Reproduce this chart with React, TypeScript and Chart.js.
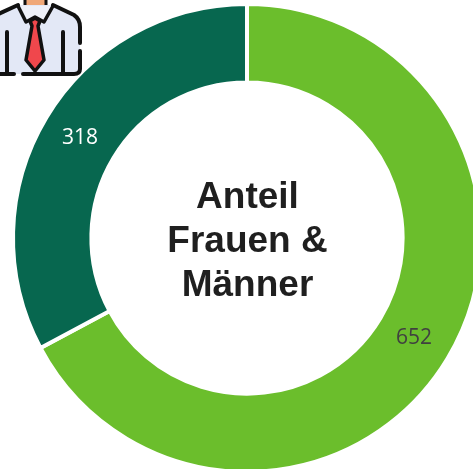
import React, { useEffect, useRef } from "react";
import { Chart, registerables } from "chart.js";

Chart.register(...registerables);

const categories = ["Männer", "Frauen"];
const seriesValues = [652, 318];
const sliceColors = ["#6bbe2c", "#07674f"];
const labelColors = ["#404040", "#ffffff"];
const centerLines = ["Anteil", "Frauen &", "Männer"];

const overlayPlugin = {
  id: "overlay",
  afterDatasetsDraw(chart: any) {
    const { ctx } = chart;
    const meta = chart.getDatasetMeta(0);
    ctx.save();
    ctx.textAlign = "center";
    ctx.textBaseline = "middle";
    ctx.font = '21px "Open Sans"';
    meta.data.forEach((arc: any, i: number) => {
      const p = arc.tooltipPosition();
      ctx.fillStyle = labelColors[i];
      ctx.fillText(String(seriesValues[i]), p.x, p.y);
    });
    const first = meta.data[0];
    ctx.fillStyle = "#1f1f1f";
    ctx.font = 'bold 37px "Liberation Sans"';
    ctx.textBaseline = "alphabetic";
    centerLines.forEach((line, i) => {
      ctx.fillText(line, first.x + 0.5, first.y - 30 + i * 44);
    });
    ctx.restore();
  },
};

function ManIcon() {
  return (
    <svg
      width={84}
      height={78}
      viewBox="0 0 84 78"
      style={{ position: "absolute", left: 0, top: 0 }}
    >
      <rect x={25} y={-4} width={21} height={12} fill="#f0a878" stroke="#111" strokeWidth={3} />
      <path
        d="M-4 15 L18 5 L53 5 L74 15 Q80 19 80 27 L80 74 L-4 74 Z"
        fill="#e3e8f6"
      />
      <path
        d="M-4 15 L18 5 M53 5 L74 15 Q80 19 80 27 L80 43 M80 51 L80 69 Q80 74 74 74 L23 74 M14 74 L-4 74"
        fill="none"
        stroke="#111"
        strokeWidth={4}
        strokeLinecap="round"
      />
      <path d="M18 6 L26 22 L35 17 L44 22 L53 6" fill="#eef0f8" stroke="#111" strokeWidth={3.5} strokeLinejoin="round" />
      <path d="M30 21 L35 18 L40 21 L38 26 L44 60 L35 71 L26 60 L32 26 Z" fill="#f0474c" stroke="#111" strokeWidth={3.5} strokeLinejoin="round" />
      <path d="M7 32 L7 73 M63 32 L63 73" stroke="#111" strokeWidth={4} strokeLinecap="round" />
    </svg>
  );
}

export default function App() {
  const ref = useRef<HTMLCanvasElement>(null);
  useEffect(() => {
    document.body.style.margin = "0";
    const chart = new Chart(ref.current!, {
      type: "doughnut",
      data: {
        labels: categories,
        datasets: [
          {
            data: seriesValues,
            backgroundColor: sliceColors,
            borderColor: "#ffffff",
            borderWidth: 4,
          },
        ],
      },
      options: {
        animation: false,
        responsive: false,
        cutout: "66.5%",
        layout: { padding: 2 },
        plugins: { legend: { display: false }, tooltip: { enabled: false } },
      },
      plugins: [overlayPlugin],
    });
    return () => chart.destroy();
  }, []);
  return (
    <div style={{ position: "relative", width: 473, height: 469, overflow: "hidden", background: "#fff" }}>
      <canvas ref={ref} width={494} height={476} style={{ display: "block" }} />
      <ManIcon />
    </div>
  );
}
